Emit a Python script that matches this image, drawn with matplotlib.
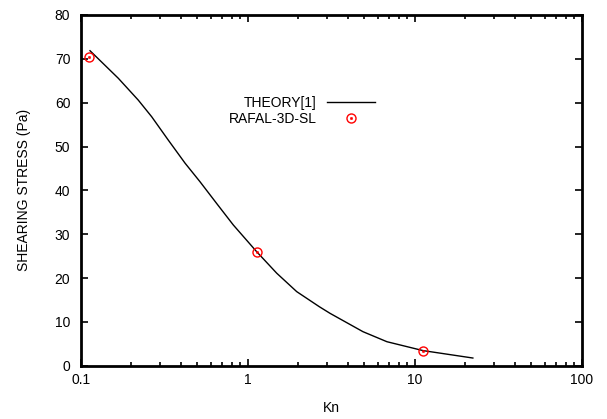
import matplotlib
matplotlib.use("Agg")
import matplotlib.pyplot as plt
from matplotlib.ticker import FixedLocator, FixedFormatter, LogLocator, NullFormatter
from matplotlib.legend_handler import HandlerTuple

plt.rcParams['font.family'] = ['Liberation Sans', 'DejaVu Sans']

# Theory curve [1]
theory_kn = [0.1137, 0.168, 0.221, 0.266, 0.334, 0.4216, 0.518, 0.652, 0.820, 1.132,
             1.492, 1.965, 2.684, 3.11, 4.9, 6.82, 11.2, 22.3]
theory_tau = [71.85, 65.56, 60.6, 56.8, 51.5, 46.2, 41.97, 37.0, 32.1, 26.0,
              21.1, 16.9, 13.46, 11.95, 7.76, 5.47, 3.45, 1.75]

# RAFAL-3D-SL simulation points
sim_kn = [0.1126, 1.132, 11.2]
sim_tau = [70.45, 26.0, 3.45]

xticks = [0.1, 1, 10, 100]
xticklabels = ["0.1", "1", "10", "100"]
yticks = [0, 10, 20, 30, 40, 50, 60, 70, 80]

fig = plt.figure(figsize=(6.07, 4.19), dpi=100)
ax = fig.add_axes([80.7 / 607, (419 - 365.7) / 419, (581.7 - 80.7) / 607, (365.7 - 15) / 419])

line, = ax.plot(theory_kn, theory_tau, color='black', lw=1.0)
circ, = ax.plot(sim_kn, sim_tau, linestyle='none', marker='o', markersize=6.5,
                markerfacecolor='none', markeredgecolor='red', markeredgewidth=1.0)
dot, = ax.plot(sim_kn, sim_tau, linestyle='none', marker='o', markersize=1.8,
               markerfacecolor='red', markeredgecolor='red', markeredgewidth=0.3)

ax.set_xscale('log')
ax.set_xlim(0.1, 100)
ax.set_ylim(0, 80)
ax.xaxis.set_major_locator(FixedLocator(xticks))
ax.xaxis.set_major_formatter(FixedFormatter(xticklabels))
ax.xaxis.set_minor_locator(LogLocator(base=10, subs=range(2, 10)))
ax.xaxis.set_minor_formatter(NullFormatter())
ax.set_yticks(yticks)

ax.tick_params(which='both', direction='in', top=True, right=True, labelsize=10, pad=5,
               width=1.2)
ax.tick_params(axis='y', pad=7.5)
ax.tick_params(which='major', length=5)
ax.tick_params(which='minor', length=3)
for s in ax.spines.values():
    s.set_linewidth(2.0)

ax.set_xlabel("Kn", fontsize=10, labelpad=10)
ax.set_ylabel("SHEARING STRESS (Pa)", fontsize=10, labelpad=17)

rx = (375 - 80.7) / 501.0
leg1 = ax.legend([line], ["THEORY[1]"], loc='center right', bbox_to_anchor=(rx, 0.750),
                 frameon=False, markerfirst=False, borderpad=0, borderaxespad=0,
                 handlelength=3.47, handletextpad=0.72, fontsize=10)
ax.add_artist(leg1)
leg2 = ax.legend([(circ, dot)], ["RAFAL-3D-SL"], loc='center right', bbox_to_anchor=(rx, 0.703),
                 frameon=False, markerfirst=False, borderpad=0, borderaxespad=0,
                 handlelength=3.47, handletextpad=0.72, fontsize=10,
                 handler_map={tuple: HandlerTuple(ndivide=1, pad=0)})

fig.savefig("out.png", dpi=100)
